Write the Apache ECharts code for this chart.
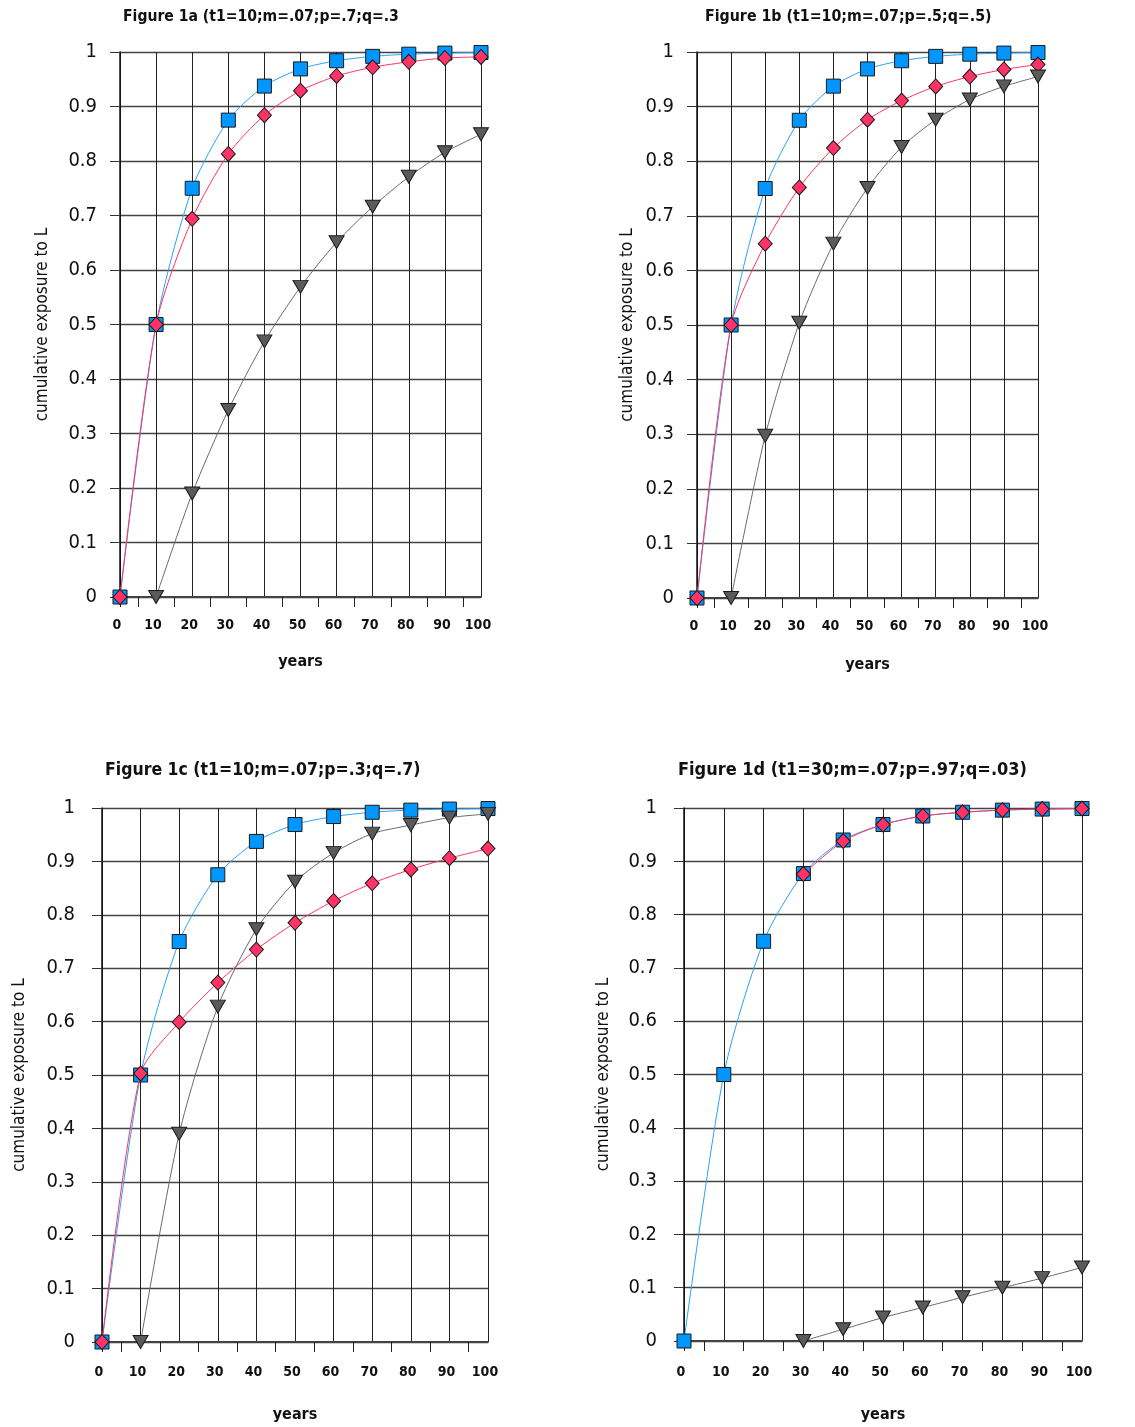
<!DOCTYPE html>
<html>
<head>
<meta charset="utf-8">
<script src="https://cdn.jsdelivr.net/npm/echarts@6/dist/echarts.min.js"></script>
<style>
html,body{margin:0;padding:0;background:#fff;}
#chart{width:1135px;height:1427px;}
</style>
</head>
<body>
<div id="chart"></div>
<script>
// ---- data ----
const years = [0, 10, 20, 30, 40, 50, 60, 70, 80, 90, 100];
const yTicks = [0, 0.1, 0.2, 0.3, 0.4, 0.5, 0.6, 0.7, 0.8, 0.9, 1];
const xTickMarks = [0, 5, 15, 25, 35, 45, 55, 65, 75, 85, 95];

const titles = [
  'Figure 1a (t1=10;m=.07;p=.7;q=.3',
  'Figure 1b (t1=10;m=.07;p=.5;q=.5)',
  'Figure 1c (t1=10;m=.07;p=.3;q=.7)',
  'Figure 1d (t1=30;m=.07;p=.97;q=.03)'
];
const xName = 'years';
const yName = 'cumulative exposure to L';

const aBlue = [0, 0.5, 0.75, 0.875, 0.9375, 0.969, 0.984, 0.992, 0.996, 0.998, 0.999];
const aRed  = [0, 0.5, 0.694, 0.813, 0.884, 0.929, 0.956, 0.972, 0.982, 0.989, 0.991];
const aGray = [null, 0, 0.19, 0.343, 0.469, 0.569, 0.651, 0.716, 0.771, 0.816, 0.849];

const bBlue = [0, 0.5, 0.75, 0.875, 0.9375, 0.969, 0.984, 0.992, 0.996, 0.998, 0.999];
const bRed  = [0, 0.5, 0.649, 0.752, 0.824, 0.876, 0.911, 0.937, 0.955, 0.968, 0.977];
const bGray = [null, 0, 0.297, 0.504, 0.649, 0.751, 0.826, 0.876, 0.913, 0.937, 0.955];

const cBlue = [0, 0.5, 0.75, 0.875, 0.9375, 0.969, 0.984, 0.992, 0.996, 0.998, 0.999];
const cRed  = [0, 0.503, 0.599, 0.673, 0.735, 0.785, 0.826, 0.859, 0.885, 0.906, 0.924];
const cGray = [null, 0, 0.39, 0.628, 0.773, 0.862, 0.916, 0.952, 0.968, 0.982, 0.989];

const dBlue = [0, 0.5, 0.75, 0.877, 0.94, 0.969, 0.985, 0.992, 0.996, 0.998, 0.999];
const dRed  = [null, null, null, 0.876, 0.938, 0.969, 0.985, 0.992, 0.996, 0.998, 0.999];
const dGray = [null, null, null, 0, 0.022, 0.044, 0.063, 0.082, 0.1, 0.118, 0.138];

// ---- layout / style ----
const FONT = '"DejaVu Sans Condensed", "DejaVu Sans", sans-serif';
const panels = [
  {grid:{left:120, top:52, width:361, height:545}, tLeft:118, tTop:4, tSize:15.6, yMargin:23, xMargin:21, xGap:57, yGap:69, series:[aBlue, aRed, aGray]},
  {grid:{left:697, top:52, width:341, height:546}, tLeft:700, tTop:4, tSize:15.8, yMargin:23, xMargin:21, xGap:59, yGap:61, series:[bBlue, bRed, bGray]},
  {grid:{left:102, top:808, width:386, height:534}, tLeft:100, tTop:756, tSize:17.5, yMargin:27, xMargin:23, xGap:65, yGap:74, series:[cBlue, cRed, cGray]},
  {grid:{left:684, top:808, width:398, height:533}, tLeft:673, tTop:756, tSize:18, yMargin:27, xMargin:24, xGap:66, yGap:72, series:[dBlue, dRed, dGray]}
];

function yLabel(v) {
  const k = Math.round(v * 10);
  if (k === 0) return '0';
  if (k === 10) return '1';
  return '0.' + k;
}

const seriesStyles = [
  {symbol:'rect', size:14, rotate:0, color:'#0096ff', line:'#2aa3f2'},
  {symbol:'diamond', size:[14,15], rotate:0, color:'#ff3366', line:'#ff3366'},
  {symbol:'triangle', size:[15,13], rotate:180, color:'#5a5a5a', line:'#6a6a6a'}
];

const option = {
  animation: false,
  backgroundColor: '#fff',
  title: [], grid: [], xAxis: [], yAxis: [], series: []
};

panels.forEach((p, i) => {
  option.title.push({
    text: titles[i], left: p.tLeft, top: p.tTop,
    textStyle: {fontFamily: FONT, fontWeight: 'bold', fontSize: p.tSize, color: '#111'}
  });
  option.grid.push(Object.assign({containLabel: false}, p.grid));
  option.xAxis.push({
    gridIndex: i, type: 'value', min: 0, max: 100, interval: 10, position: 'bottom',
    name: xName, nameLocation: 'middle', nameGap: p.xGap,
    nameTextStyle: {fontFamily: FONT, fontWeight: 'bold', fontSize: 16, color: '#111'},
    axisLine: {show: true, onZero: false, lineStyle: {color: '#444', width: 2}},
    axisTick: {show: false},
    axisLabel: {fontFamily: FONT, fontWeight: 'bold', fontSize: 14, color: '#111', margin: p.xMargin, padding: [0, 6, 0, 0]},
    splitLine: {show: true, lineStyle: {color: '#222', width: 1}}
  });
  option.yAxis.push({
    gridIndex: i, type: 'value', min: 0, max: 1, interval: 0.1,
    name: yName, nameLocation: 'middle', nameGap: p.yGap, nameRotate: 90,
    nameTextStyle: {fontFamily: FONT, fontSize: 17, color: '#111'},
    axisLine: {show: true, onZero: false, lineStyle: {color: '#111', width: 1.5}},
    axisTick: {show: true, length: 10, lineStyle: {color: '#333', width: 1}},
    axisLabel: {formatter: yLabel, fontFamily: FONT, fontSize: 20, color: '#111', margin: p.yMargin},
    splitLine: {show: true, lineStyle: {color: '#444', width: 1.4}}
  });
  p.series.forEach((arr, s) => {
    const st = seriesStyles[s];
    option.series.push({
      type: 'line', xAxisIndex: i, yAxisIndex: i,
      data: years.map((x, k) => [x, arr[k]]),
      smooth: 0.25, connectNulls: false,
      symbol: st.symbol, symbolSize: st.size, symbolRotate: st.rotate,
      showSymbol: true,
      lineStyle: {color: st.line, width: 1},
      itemStyle: {color: st.color, borderColor: '#1a1a1a', borderWidth: 1},
      z: 3 + s
    });
  });
});

// tick-mark-only axes (ticks sit between the grid lines, as in the original)
panels.forEach((p, i) => {
  option.xAxis.push({
    gridIndex: i, type: 'value', min: 0, max: 100, position: 'bottom',
    axisLine: {show: false},
    axisTick: {show: true, length: 10, customValues: xTickMarks, lineStyle: {color: '#222', width: 1}},
    axisLabel: {show: false},
    splitLine: {show: false}
  });
});

const chart = echarts.init(document.getElementById('chart'), null, {renderer: 'canvas'});
chart.setOption(option);
</script>
</body>
</html>
